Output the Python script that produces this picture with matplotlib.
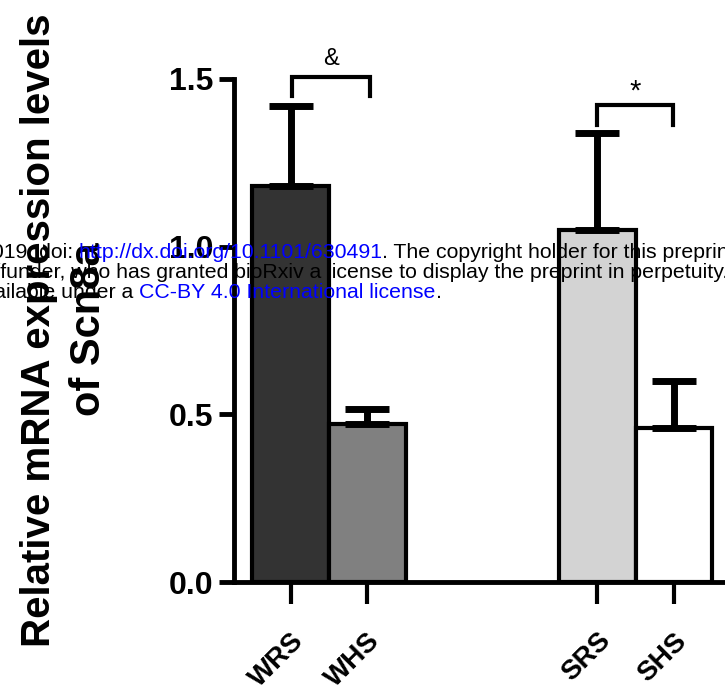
import matplotlib
matplotlib.use("Agg")
import matplotlib.pyplot as plt

plt.rcParams["font.family"] = ["Liberation Sans", "DejaVu Sans"]

# data
groups = ["WRS", "WHS", "SRS", "SHS"]
x_pos = [0, 1, 4, 5]
means = [1.18, 0.47, 1.05, 0.46]
sem = [0.24, 0.045, 0.29, 0.14]
bar_colors = ["#333333", "#808080", "#d3d3d3", "#ffffff"]
y_ticks = [0.0, 0.5, 1.0, 1.5]
y_tick_labels = ["0.0", "0.5", "1.0", "1.5"]

# significance marks: (x left, x right, y top, leg bottom, symbol, size, gap)
sig_marks = [(0.02, 1.04, 1.506, 1.449, "&", 17, 0.02),
             (4.0, 4.99, 1.422, 1.362, "*", 21, 0.0)]

W, H = 725, 692
fig = plt.figure(figsize=(W / 100, H / 100), dpi=100)
ax = fig.add_axes([234 / W, (H - 582) / H, (743 - 234) / W, (582 - 79) / H])

ax.bar(x_pos, means, width=1.0, color=bar_colors, edgecolor="black", linewidth=3,
       yerr=[[0] * len(sem), sem], capsize=16,
       error_kw=dict(elinewidth=5, capthick=5, ecolor="black"))

ax.set_xlim(-0.737, 5.9)
ax.set_ylim(0, 1.5)

for side in ["top", "right"]:
    ax.spines[side].set_visible(False)
for side in ["left", "bottom"]:
    ax.spines[side].set_linewidth(3.5)

ax.set_yticks(y_ticks)
ax.set_yticklabels(y_tick_labels, fontsize=23, fontweight="bold")
ax.tick_params(axis="y", length=11, width=3.5, pad=4)

ax.set_xticks(x_pos)
ax.set_xticklabels(groups, fontsize=20, fontweight="bold", rotation=45,
                   ha="right", va="top", rotation_mode="anchor")
ax.tick_params(axis="x", length=16, width=3, pad=17)

for x0, x1, ytop, yleg, sym, size, gap in sig_marks:
    ax.plot([x0, x0, x1, x1], [yleg, ytop, ytop, yleg], color="black", lw=3,
            clip_on=False, solid_joinstyle="miter")
    ax.text((x0 + x1) / 2, ytop + gap, sym, ha="center", va="bottom",
            fontsize=size, clip_on=False)

# y label, two lines
def px(x, y):
    return x / W, 1 - y / H

fig.text(*px(50, 330), "Relative mRNA expression levels", rotation=90,
         rotation_mode="anchor", ha="center", va="baseline",
         fontsize=29, fontweight="bold")
fig.text(*px(100, 329), "of Scn8a", rotation=90,
         rotation_mode="anchor", ha="center", va="baseline",
         fontsize=30, fontweight="bold")

# bioRxiv watermark overlay
wm = dict(fontsize=15.3, va="baseline")
blue = "#0000ff"
fig.text(*px(73, 258), "2019; doi:", ha="right", **wm)
fig.text(*px(79, 258), "http://dx.doi.org/10.1101/630491", ha="left", color=blue, **wm)
fig.text(*px(382, 258), ". The copyright holder for this preprint (which was not",
         ha="left", **wm)
fig.text(*px(-66, 278),
         "author/funder, who has granted bioRxiv a license to display the preprint in perpetuity. It is made",
         ha="left", **wm)
fig.text(*px(133, 298), "It is made available under a", ha="right", **wm)
fig.text(*px(139, 298), "CC-BY 4.0 International license", ha="left", color=blue, **wm)
fig.text(*px(436, 298), ".", ha="left", **wm)

fig.savefig("out.png", dpi=100)
